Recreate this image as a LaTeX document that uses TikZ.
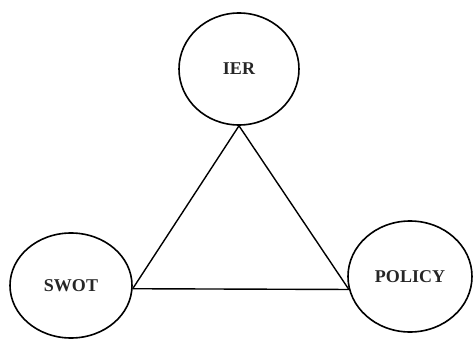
\documentclass[tikz,border=0pt]{standalone}
\usepackage{fontspec}
\setmainfont{Liberation Serif}
\usetikzlibrary{shapes.geometric}
\begin{document}
\begin{tikzpicture}[x=1pt,y=-1pt,
  bubble/.style={ellipse,draw=black,line width=1.6pt,inner sep=0pt,
    font=\fontsize{18}{20}\selectfont\bfseries,text=black!85},
  link/.style={draw=black,line width=1.4pt}]
  \useasboundingbox (0,0) rectangle (475,340);
  \node[bubble,minimum width=120pt,minimum height=112pt] (ier) at (239,69) {IER};
  \node[bubble,minimum width=122pt,minimum height=105pt] (swot) at (71,285.5) {SWOT};
  \node[bubble,minimum width=124pt,minimum height=111pt] (policy) at (410,276.5) {POLICY};
  % triangle joining the three ellipses
  \draw[link] (ier.south) -- (swot.-3.3);
  \draw[link] (ier.south) -- (policy.-168.4);
  \draw[link] (swot.-3.3) -- (policy.-168.4);
\end{tikzpicture}
\end{document}
